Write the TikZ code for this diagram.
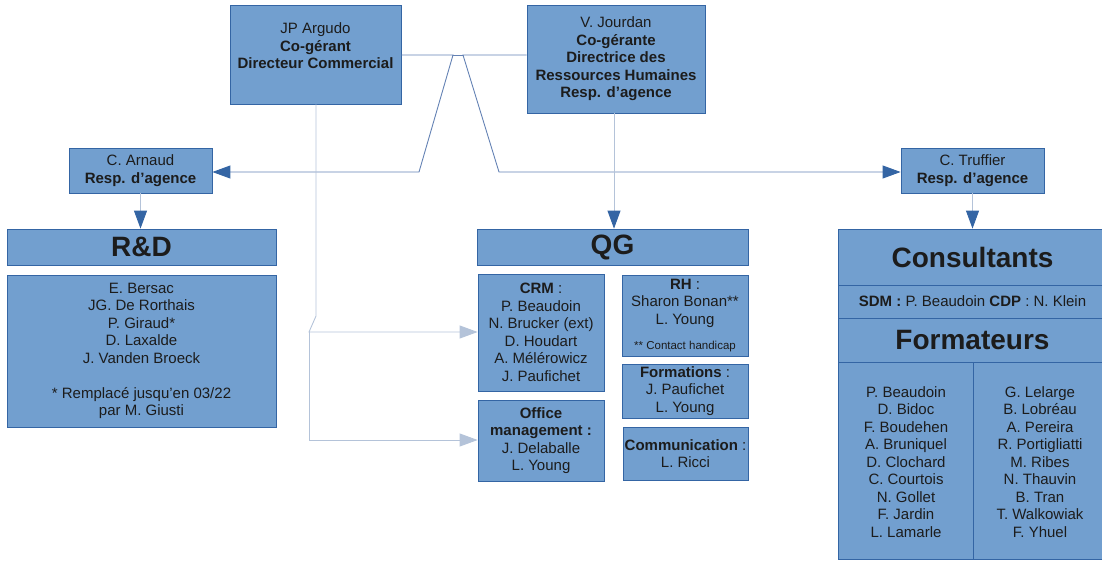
\documentclass[tikz,border=0pt]{standalone}
\usepackage{fontspec}
\setmainfont{Liberation Sans}
\usetikzlibrary{arrows.meta}
\definecolor{boxfill}{HTML}{729FCF}
\definecolor{boxline}{HTML}{3465A4}
\definecolor{arrowdark}{HTML}{3465A4}
\definecolor{connlight}{HTML}{B4C3D9}
\definecolor{connmid}{HTML}{6482B4}
\definecolor{txt}{HTML}{1C1C1C}
\begin{document}
\begin{tikzpicture}[x=1pt,y=-1pt,
  box/.style={draw=boxline, line width=0.8pt, fill=boxfill, inner sep=0pt, align=center, text=txt, font=\fontsize{15}{17.5}\selectfont},
  lbl/.style={inner sep=0pt, align=center, text=txt, font=\fontsize{15}{17.5}\selectfont},
  big/.style={font=\fontsize{28}{32}\selectfont\bfseries},
  sz/.style 2 args={minimum width=#1pt, minimum height=#2pt},
  conn/.style={draw=connmid, line width=0.9pt},
  connl/.style={draw=connlight, line width=0.9pt},
  darr/.style={-{Triangle[length=18pt,width=13pt,color=arrowdark]}},
  larr/.style={-{Triangle[length=18pt,width=13pt,color=connlight]}}]
\useasboundingbox (0,0) rectangle (1102,560);
% top management
\node[box, sz={171}{99}] (jp) at (315.5,54.5) {};
\node[lbl] (jptext) at (315.5,46) {JP Argudo\\\textbf{Co-gérant}\\\textbf{Directeur Commercial}};
\node[box, sz={178}{108}] (jour) at (616,59) {V. Jourdan\\\textbf{Co-gérante}\\\textbf{Directrice des}\\\textbf{Ressources Humaines}\\\textbf{Resp. d’agence}};
% agency heads
\node[box, sz={143}{45}] (arn) at (140.5,170.5) {C. Arnaud\\\textbf{Resp. d’agence}};
\node[box, sz={143}{45}] (truf) at (972.5,170.5) {C. Truffier\\\textbf{Resp. d’agence}};
% R&D
\node[box, big, sz={269}{36}] (rdh) at (141.5,247) {R\&D};
\node[box, sz={269}{152}] (rdb) at (141.5,351) {E. Bersac\\JG. De Rorthais\\P. Giraud*\\D. Laxalde\\J. Vanden Broeck\\[17.5pt]* Remplacé jusqu’en 03/22\\par M. Giusti};
% QG
\node[box, big, sz={271}{36}] (qg) at (612.5,247) {QG};
\node[box, sz={126}{117}] (crm) at (541,332.5) {\textbf{CRM} :\\P. Beaudoin\\N. Brucker (ext)\\D. Houdart\\A. Mélérowicz\\J. Paufichet};
\node[box, sz={126}{81}] (rh) at (685,315.5) {\textbf{RH} :\\Sharon Bonan**\\L. Young\\[8pt]{\fontsize{11.5}{13}\selectfont ** Contact handicap}};
\node[box, sz={126}{54}] (form) at (685,391) {\textbf{Formations} :\\J. Paufichet\\L. Young};
\node[box, sz={126}{81}] (office) at (541,440.5) {\textbf{Office}\\\textbf{management :}\\J. Delaballe\\L. Young};
\node[box, sz={125}{53}] (comm) at (685.5,453.5) {\textbf{Communication} :\\L. Ricci};
% Consultants
\node[box, big, sz={269}{56}] (cons) at (972.5,257) {Consultants};
\node[box, sz={269}{33}] (sdm) at (972.5,301.5) {\textbf{SDM :} P. Beaudoin \textbf{CDP} : N. Klein};
\node[box, big, sz={269}{44}] (fmt) at (972.5,340) {Formateurs};
\node[box, sz={135}{197}] (colL) at (905.5,460.5) {};
\node[box, sz={134}{197}] (colR) at (1040,460.5) {};
\node[lbl] (colLt) at (906,462) {P. Beaudoin\\D. Bidoc\\F. Boudehen\\A. Bruniquel\\D. Clochard\\C. Courtois\\N. Gollet\\F. Jardin\\L. Lamarle};
\node[lbl] (colRt) at (1040,462) {G. Lelarge\\B. Lobréau\\A. Pereira\\R. Portigliatti\\M. Ribes\\N. Thauvin\\B. Tran\\T. Walkowiak\\F. Yhuel};
% connectors
\coordinate (jpr) at (453,55);
\coordinate (jpd) at (419,172);
\coordinate (jol) at (463,55);
\coordinate (jod) at (499,172);
\draw[conn, darr] (jp.east |- jpr) -- (jpr) -- (jpd) -- (arn.east |- jpd);
\draw[conn, darr] (jour.west |- jol) -- (jol) -- (jod) -- (truf.west |- jod);
\draw[conn] (jpr) -- (jol);
\coordinate (qgx) at (614,0);
\draw[connl, darr] (jour.south -| qgx) -- (qg.north -| qgx);
\coordinate (k1) at (316,316);
\coordinate (k2) at (309,332);
\coordinate (k3) at (309,440);
\draw[connl, larr] (jp.south -| k1) -- (k1) -- (k2) -- (crm.west |- k2);
\draw[connl, larr] (k2) -- (k3) -- (office.west |- k3);
\draw[connl, darr] (arn.south) -- (arn.south |- rdh.north);
\draw[connl, darr] (truf.south) -- (truf.south |- cons.north);
\end{tikzpicture}
\end{document}
